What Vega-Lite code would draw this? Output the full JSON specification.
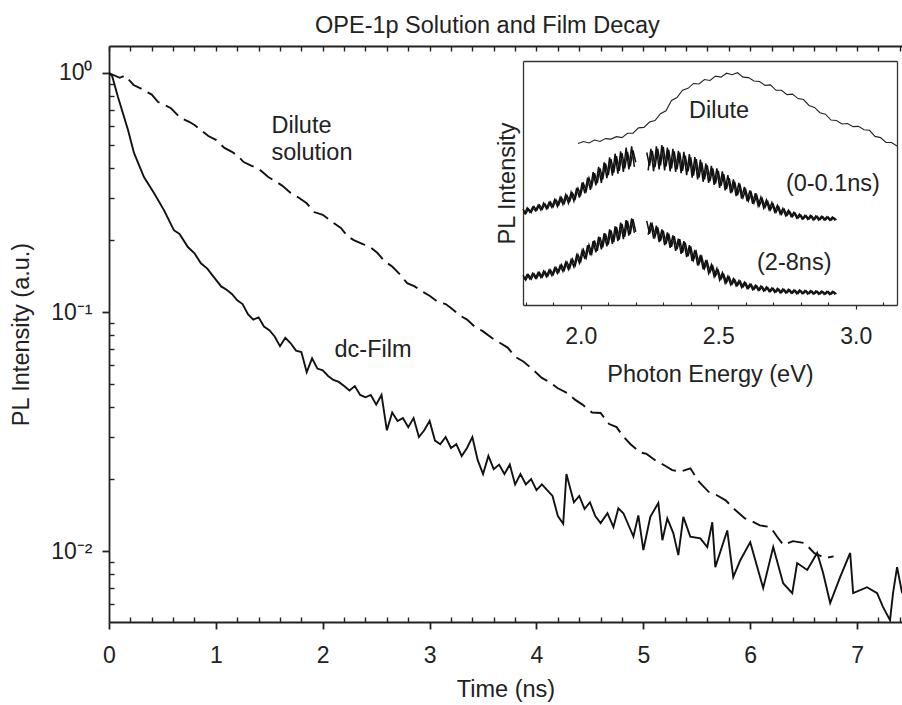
{
  "$schema": "https://vega.github.io/schema/vega-lite/v6.json",
  "width": 793,
  "height": 576,
  "autosize": {"type": "none"},
  "padding": {"left": 109, "top": 46, "right": 0, "bottom": 83},
  "background": "white",
  "title": {"text": "OPE-1p Solution and Film Decay", "anchor": "start", "frame": "group", "dx": 206, "offset": -16, "baseline": "bottom", "fontSize": 23.5, "fontWeight": "normal", "font": "Liberation Sans", "color": "#222"},
  "config": {
    "view": {"stroke": null},
    "font": "Liberation Sans",
    "axis": {"grid": false, "domainColor": "#222", "tickColor": "#222", "labelColor": "#222", "titleColor": "#222", "labelFont": "Liberation Sans", "titleFont": "Liberation Sans", "titleFontWeight": "normal", "labelFontSize": 23, "titleFontSize": 23.5, "labelFlush": false, "labelOverlap": false, "labelBound": false, "domainWidth": 1.8, "tickWidth": 1.8}
  },
  "datasets": {
    "film": [
      {"t":0,"v":1.0},{"t":0.03,"v":0.97},{"t":0.084,"v":0.794},{"t":0.178,"v":0.578},{"t":0.234,"v":0.463},{"t":0.327,"v":0.367},{"t":0.421,"v":0.315},{"t":0.514,"v":0.267},{"t":0.607,"v":0.22},{"t":0.66,"v":0.212},{"t":0.738,"v":0.187},{"t":0.8,"v":0.176},{"t":0.86,"v":0.16},{"t":0.92,"v":0.152},{"t":0.981,"v":0.14},
      {"t":1.05,"v":0.128},{"t":1.1,"v":0.124},{"t":1.15,"v":0.119},{"t":1.2,"v":0.112},{"t":1.25,"v":0.108},{"t":1.3,"v":0.098},{"t":1.35,"v":0.093},{"t":1.4,"v":0.095},{"t":1.45,"v":0.087},{"t":1.5,"v":0.084},{"t":1.55,"v":0.079},{"t":1.6,"v":0.072},{"t":1.65,"v":0.078},{"t":1.7,"v":0.074},{"t":1.75,"v":0.069},{"t":1.8,"v":0.068},{"t":1.85,"v":0.056},{"t":1.9,"v":0.064},{"t":1.95,"v":0.058},{"t":2.0,"v":0.057},{"t":2.05,"v":0.054},{"t":2.1,"v":0.052},{"t":2.15,"v":0.051},{"t":2.2,"v":0.049},{"t":2.25,"v":0.047},{"t":2.3,"v":0.049},{"t":2.35,"v":0.045},{"t":2.4,"v":0.044},{"t":2.45,"v":0.045},{"t":2.5,"v":0.041},{"t":2.55,"v":0.045},{"t":2.6,"v":0.032},{"t":2.65,"v":0.038},{"t":2.7,"v":0.035},{"t":2.75,"v":0.036},{"t":2.8,"v":0.033},{"t":2.85,"v":0.036},{"t":2.9,"v":0.03},{"t":2.95,"v":0.032},{"t":3.0,"v":0.035},{"t":3.05,"v":0.029},{"t":3.1,"v":0.028},{"t":3.15,"v":0.03},{"t":3.2,"v":0.027},{"t":3.25,"v":0.028},{"t":3.3,"v":0.025},{"t":3.35,"v":0.027},{"t":3.4,"v":0.03},{"t":3.45,"v":0.024},{"t":3.5,"v":0.021},{"t":3.55,"v":0.025},{"t":3.6,"v":0.022},{"t":3.65,"v":0.023},{"t":3.7,"v":0.021},{"t":3.75,"v":0.023},{"t":3.8,"v":0.019},{"t":3.85,"v":0.021},{"t":3.9,"v":0.019},{"t":3.95,"v":0.02},{"t":4.0,"v":0.018},{"t":4.05,"v":0.019},{"t":4.1,"v":0.018},{"t":4.15,"v":0.017},{"t":4.2,"v":0.014},{"t":4.25,"v":0.013},{"t":4.28,"v":0.021},{"t":4.35,"v":0.016},{"t":4.4,"v":0.017},{"t":4.45,"v":0.015},{"t":4.5,"v":0.016},{"t":4.55,"v":0.014},{"t":4.6,"v":0.0131},
      {"t":4.664,"v":0.0144},{"t":4.72,"v":0.0126},{"t":4.766,"v":0.0151},{"t":4.813,"v":0.0144},{"t":4.907,"v":0.0115},{"t":4.953,"v":0.0141},{"t":5.0,"v":0.0101},{"t":5.065,"v":0.0139},{"t":5.14,"v":0.0159},{"t":5.178,"v":0.0111},{"t":5.224,"v":0.0137},{"t":5.28,"v":0.0119},{"t":5.327,"v":0.00962},{"t":5.374,"v":0.0139},{"t":5.439,"v":0.0115},{"t":5.533,"v":0.0113},{"t":5.598,"v":0.0104},{"t":5.645,"v":0.0132},{"t":5.673,"v":0.00857},{"t":5.785,"v":0.0122},{"t":5.841,"v":0.00778},{"t":5.907,"v":0.00916},{"t":6.0,"v":0.0109},{"t":6.121,"v":0.007},{"t":6.215,"v":0.0104},{"t":6.308,"v":0.00734},{"t":6.393,"v":0.00667},{"t":6.439,"v":0.00891},{"t":6.533,"v":0.00834},{"t":6.626,"v":0.00982},{"t":6.682,"v":0.00809},{"t":6.748,"v":0.00606},{"t":6.841,"v":0.00778},{"t":6.935,"v":0.00982},{"t":6.963,"v":0.00667},{"t":7.093,"v":0.00706},{"t":7.187,"v":0.00667},{"t":7.243,"v":0.00583},{"t":7.308,"v":0.00514},{"t":7.336,"v":0.00667},{"t":7.374,"v":0.00857},{"t":7.421,"v":0.00667}
    ],
    "dil": [
      {"t":0,"v":1.0},{"t":0.1,"v":0.955},{"t":0.15,"v":0.975},{"t":0.23,"v":0.891},{"t":0.3,"v":0.86},{"t":0.35,"v":0.835},{"t":0.4,"v":0.812},{"t":0.46,"v":0.756},{"t":0.52,"v":0.735},{"t":0.58,"v":0.712},{"t":0.67,"v":0.648},{"t":0.75,"v":0.625},{"t":0.8,"v":0.606},{"t":0.86,"v":0.577},{"t":0.93,"v":0.545},{"t":1.0,"v":0.525},{"t":1.08,"v":0.486},{"t":1.15,"v":0.468},{"t":1.2,"v":0.452},{"t":1.26,"v":0.424},{"t":1.33,"v":0.41},{"t":1.4,"v":0.398},{"t":1.49,"v":0.367},{"t":1.55,"v":0.354},{"t":1.62,"v":0.338},{"t":1.7,"v":0.315},{"t":1.78,"v":0.3},{"t":1.85,"v":0.285},{"t":1.92,"v":0.262},{"t":2.0,"v":0.255},{"t":2.1,"v":0.236},{"t":2.17,"v":0.225},{"t":2.23,"v":0.208},{"t":2.29,"v":0.2},{"t":2.37,"v":0.193},{"t":2.45,"v":0.186},{"t":2.51,"v":0.177},{"t":2.58,"v":0.163},{"t":2.65,"v":0.155},{"t":2.72,"v":0.144},{"t":2.79,"v":0.132},{"t":2.86,"v":0.128},{"t":2.93,"v":0.122},{"t":3.0,"v":0.117},{"t":3.08,"v":0.11},{"t":3.15,"v":0.108},{"t":3.2,"v":0.104},{"t":3.28,"v":0.097},{"t":3.35,"v":0.093},{"t":3.42,"v":0.087},{"t":3.5,"v":0.083},{"t":3.58,"v":0.078},{"t":3.66,"v":0.0742},{"t":3.73,"v":0.071},{"t":3.8,"v":0.065},{"t":3.88,"v":0.062},{"t":3.97,"v":0.0572},{"t":4.05,"v":0.053},{"t":4.12,"v":0.051},{"t":4.2,"v":0.048},{"t":4.29,"v":0.0458},{"t":4.36,"v":0.043},{"t":4.43,"v":0.041},{"t":4.52,"v":0.038},{"t":4.6,"v":0.0378},{"t":4.68,"v":0.034},{"t":4.75,"v":0.033},{"t":4.8,"v":0.0306},{"t":4.88,"v":0.028},{"t":4.97,"v":0.0259},{"t":5.03,"v":0.0255},{"t":5.11,"v":0.024},{"t":5.2,"v":0.0228},{"t":5.27,"v":0.0218},{"t":5.35,"v":0.0215},{"t":5.44,"v":0.0222},{"t":5.52,"v":0.0195},{"t":5.61,"v":0.0177},{"t":5.68,"v":0.0172},{"t":5.77,"v":0.0163},{"t":5.85,"v":0.015},{"t":5.95,"v":0.0137},{"t":6.02,"v":0.0133},{"t":6.09,"v":0.0128},{"t":6.19,"v":0.0126},{"t":6.25,"v":0.0115},{"t":6.31,"v":0.0106},{"t":6.4,"v":0.011},{"t":6.51,"v":0.0108},{"t":6.6,"v":0.0098},{"t":6.7,"v":0.00935},{"t":6.78,"v":0.0095}
    ],
    "lab": [
      {"t":1.52,"v":0.561,"txt":"Dilute"},{"t":1.52,"v":0.433,"txt":"solution"},{"t":2.11,"v":0.0648,"txt":"dc-Film"}
    ],
    "ins": [
      {"e":1.79,"v":0.393,"c":"b1"},{"e":1.8,"v":0.374,"c":"b1"},{"e":1.81,"v":0.394,"c":"b1"},{"e":1.82,"v":0.379,"c":"b1"},{"e":1.83,"v":0.404,"c":"b1"},{"e":1.84,"v":0.388,"c":"b1"},{"e":1.85,"v":0.41,"c":"b1"},{"e":1.86,"v":0.392,"c":"b1"},{"e":1.87,"v":0.414,"c":"b1"},{"e":1.88,"v":0.396,"c":"b1"},{"e":1.89,"v":0.422,"c":"b1"},{"e":1.9,"v":0.403,"c":"b1"},{"e":1.91,"v":0.431,"c":"b1"},{"e":1.92,"v":0.41,"c":"b1"},{"e":1.93,"v":0.44,"c":"b1"},{"e":1.94,"v":0.417,"c":"b1"},{"e":1.95,"v":0.449,"c":"b1"},{"e":1.96,"v":0.425,"c":"b1"},{"e":1.97,"v":0.458,"c":"b1"},{"e":1.98,"v":0.436,"c":"b1"},{"e":1.99,"v":0.478,"c":"b1"},{"e":2.0,"v":0.452,"c":"b1"},{"e":2.01,"v":0.497,"c":"b1"},{"e":2.02,"v":0.468,"c":"b1"},{"e":2.03,"v":0.52,"c":"b1"},{"e":2.04,"v":0.486,"c":"b1"},{"e":2.05,"v":0.54,"c":"b1"},{"e":2.06,"v":0.5,"c":"b1"},{"e":2.07,"v":0.56,"c":"b1"},{"e":2.08,"v":0.515,"c":"b1"},{"e":2.09,"v":0.58,"c":"b1"},{"e":2.1,"v":0.532,"c":"b1"},{"e":2.11,"v":0.598,"c":"b1"},{"e":2.12,"v":0.543,"c":"b1"},{"e":2.13,"v":0.61,"c":"b1"},{"e":2.14,"v":0.55,"c":"b1"},{"e":2.15,"v":0.622,"c":"b1"},{"e":2.16,"v":0.56,"c":"b1"},{"e":2.17,"v":0.628,"c":"b1"},{"e":2.18,"v":0.568,"c":"b1"},{"e":2.19,"v":0.634,"c":"b1"},{"e":2.2,"v":0.585,"c":"b1"},
      {"e":1.795,"v":0.372,"c":"b1x"},{"e":1.805,"v":0.398,"c":"b1x"},{"e":1.815,"v":0.38,"c":"b1x"},{"e":1.825,"v":0.401,"c":"b1x"},{"e":1.835,"v":0.386,"c":"b1x"},{"e":1.845,"v":0.409,"c":"b1x"},{"e":1.855,"v":0.389,"c":"b1x"},{"e":1.865,"v":0.418,"c":"b1x"},{"e":1.875,"v":0.395,"c":"b1x"},{"e":1.885,"v":0.421,"c":"b1x"},{"e":1.895,"v":0.4,"c":"b1x"},{"e":1.905,"v":0.432,"c":"b1x"},{"e":1.915,"v":0.404,"c":"b1x"},{"e":1.925,"v":0.441,"c":"b1x"},{"e":1.935,"v":0.412,"c":"b1x"},{"e":1.945,"v":0.452,"c":"b1x"},{"e":1.955,"v":0.418,"c":"b1x"},{"e":1.965,"v":0.462,"c":"b1x"},{"e":1.975,"v":0.426,"c":"b1x"},{"e":1.985,"v":0.48,"c":"b1x"},{"e":1.995,"v":0.44,"c":"b1x"},{"e":2.005,"v":0.502,"c":"b1x"},{"e":2.015,"v":0.458,"c":"b1x"},{"e":2.025,"v":0.522,"c":"b1x"},{"e":2.035,"v":0.472,"c":"b1x"},{"e":2.045,"v":0.545,"c":"b1x"},{"e":2.055,"v":0.49,"c":"b1x"},{"e":2.065,"v":0.566,"c":"b1x"},{"e":2.075,"v":0.5,"c":"b1x"},{"e":2.085,"v":0.585,"c":"b1x"},{"e":2.095,"v":0.52,"c":"b1x"},{"e":2.105,"v":0.605,"c":"b1x"},{"e":2.115,"v":0.53,"c":"b1x"},{"e":2.125,"v":0.62,"c":"b1x"},{"e":2.135,"v":0.538,"c":"b1x"},{"e":2.145,"v":0.63,"c":"b1x"},{"e":2.155,"v":0.545,"c":"b1x"},{"e":2.165,"v":0.645,"c":"b1x"},{"e":2.175,"v":0.556,"c":"b1x"},{"e":2.185,"v":0.65,"c":"b1x"},{"e":2.195,"v":0.566,"c":"b1x"},
      {"e":2.24,"v":0.625,"c":"b2"},{"e":2.25,"v":0.57,"c":"b2"},{"e":2.26,"v":0.632,"c":"b2"},{"e":2.27,"v":0.565,"c":"b2"},{"e":2.28,"v":0.64,"c":"b2"},{"e":2.29,"v":0.572,"c":"b2"},{"e":2.3,"v":0.648,"c":"b2"},{"e":2.31,"v":0.568,"c":"b2"},{"e":2.32,"v":0.636,"c":"b2"},{"e":2.33,"v":0.56,"c":"b2"},{"e":2.34,"v":0.63,"c":"b2"},{"e":2.35,"v":0.556,"c":"b2"},{"e":2.36,"v":0.625,"c":"b2"},{"e":2.37,"v":0.55,"c":"b2"},{"e":2.38,"v":0.612,"c":"b2"},{"e":2.39,"v":0.548,"c":"b2"},{"e":2.4,"v":0.605,"c":"b2"},{"e":2.41,"v":0.53,"c":"b2"},{"e":2.42,"v":0.598,"c":"b2"},{"e":2.43,"v":0.522,"c":"b2"},{"e":2.44,"v":0.585,"c":"b2"},{"e":2.45,"v":0.515,"c":"b2"},{"e":2.46,"v":0.572,"c":"b2"},{"e":2.47,"v":0.508,"c":"b2"},{"e":2.48,"v":0.56,"c":"b2"},{"e":2.49,"v":0.498,"c":"b2"},{"e":2.5,"v":0.55,"c":"b2"},{"e":2.51,"v":0.488,"c":"b2"},{"e":2.52,"v":0.536,"c":"b2"},{"e":2.53,"v":0.475,"c":"b2"},{"e":2.54,"v":0.52,"c":"b2"},{"e":2.55,"v":0.462,"c":"b2"},{"e":2.56,"v":0.505,"c":"b2"},{"e":2.57,"v":0.45,"c":"b2"},{"e":2.58,"v":0.488,"c":"b2"},{"e":2.59,"v":0.44,"c":"b2"},{"e":2.6,"v":0.472,"c":"b2"},{"e":2.61,"v":0.428,"c":"b2"},{"e":2.62,"v":0.46,"c":"b2"},{"e":2.63,"v":0.418,"c":"b2"},{"e":2.64,"v":0.45,"c":"b2"},{"e":2.65,"v":0.408,"c":"b2"},{"e":2.66,"v":0.436,"c":"b2"},{"e":2.67,"v":0.4,"c":"b2"},{"e":2.68,"v":0.424,"c":"b2"},{"e":2.69,"v":0.39,"c":"b2"},{"e":2.7,"v":0.412,"c":"b2"},{"e":2.71,"v":0.38,"c":"b2"},{"e":2.72,"v":0.402,"c":"b2"},{"e":2.73,"v":0.372,"c":"b2"},{"e":2.74,"v":0.392,"c":"b2"},{"e":2.75,"v":0.367,"c":"b2"},{"e":2.76,"v":0.383,"c":"b2"},{"e":2.77,"v":0.362,"c":"b2"},{"e":2.78,"v":0.376,"c":"b2"},{"e":2.79,"v":0.356,"c":"b2"},{"e":2.8,"v":0.369,"c":"b2"},{"e":2.81,"v":0.353,"c":"b2"},{"e":2.82,"v":0.366,"c":"b2"},{"e":2.83,"v":0.352,"c":"b2"},{"e":2.84,"v":0.365,"c":"b2"},{"e":2.85,"v":0.35,"c":"b2"},{"e":2.86,"v":0.363,"c":"b2"},{"e":2.87,"v":0.35,"c":"b2"},{"e":2.88,"v":0.362,"c":"b2"},{"e":2.89,"v":0.349,"c":"b2"},{"e":2.9,"v":0.36,"c":"b2"},{"e":2.91,"v":0.348,"c":"b2"},{"e":2.92,"v":0.358,"c":"b2"},{"e":2.93,"v":0.349,"c":"b2"},
      {"e":2.245,"v":0.552,"c":"b2x"},{"e":2.255,"v":0.64,"c":"b2x"},{"e":2.265,"v":0.548,"c":"b2x"},{"e":2.275,"v":0.65,"c":"b2x"},{"e":2.285,"v":0.556,"c":"b2x"},{"e":2.295,"v":0.655,"c":"b2x"},{"e":2.305,"v":0.552,"c":"b2x"},{"e":2.315,"v":0.645,"c":"b2x"},{"e":2.325,"v":0.548,"c":"b2x"},{"e":2.335,"v":0.64,"c":"b2x"},{"e":2.345,"v":0.545,"c":"b2x"},{"e":2.355,"v":0.632,"c":"b2x"},{"e":2.365,"v":0.54,"c":"b2x"},{"e":2.375,"v":0.628,"c":"b2x"},{"e":2.385,"v":0.532,"c":"b2x"},{"e":2.395,"v":0.618,"c":"b2x"},{"e":2.405,"v":0.522,"c":"b2x"},{"e":2.415,"v":0.606,"c":"b2x"},{"e":2.425,"v":0.515,"c":"b2x"},{"e":2.435,"v":0.596,"c":"b2x"},{"e":2.445,"v":0.505,"c":"b2x"},{"e":2.455,"v":0.58,"c":"b2x"},{"e":2.465,"v":0.5,"c":"b2x"},{"e":2.475,"v":0.57,"c":"b2x"},{"e":2.485,"v":0.492,"c":"b2x"},{"e":2.495,"v":0.56,"c":"b2x"},{"e":2.505,"v":0.48,"c":"b2x"},{"e":2.515,"v":0.548,"c":"b2x"},{"e":2.525,"v":0.47,"c":"b2x"},{"e":2.535,"v":0.532,"c":"b2x"},{"e":2.545,"v":0.458,"c":"b2x"},{"e":2.555,"v":0.515,"c":"b2x"},{"e":2.565,"v":0.446,"c":"b2x"},{"e":2.575,"v":0.5,"c":"b2x"},{"e":2.585,"v":0.436,"c":"b2x"},{"e":2.595,"v":0.484,"c":"b2x"},{"e":2.605,"v":0.425,"c":"b2x"},{"e":2.615,"v":0.47,"c":"b2x"},{"e":2.625,"v":0.415,"c":"b2x"},{"e":2.635,"v":0.458,"c":"b2x"},{"e":2.645,"v":0.406,"c":"b2x"},{"e":2.655,"v":0.442,"c":"b2x"},{"e":2.665,"v":0.398,"c":"b2x"},{"e":2.675,"v":0.43,"c":"b2x"},{"e":2.685,"v":0.39,"c":"b2x"},{"e":2.695,"v":0.42,"c":"b2x"},{"e":2.705,"v":0.382,"c":"b2x"},{"e":2.715,"v":0.408,"c":"b2x"},{"e":2.725,"v":0.373,"c":"b2x"},{"e":2.735,"v":0.396,"c":"b2x"},{"e":2.745,"v":0.366,"c":"b2x"},{"e":2.755,"v":0.388,"c":"b2x"},{"e":2.765,"v":0.362,"c":"b2x"},{"e":2.775,"v":0.38,"c":"b2x"},{"e":2.785,"v":0.356,"c":"b2x"},{"e":2.795,"v":0.372,"c":"b2x"},{"e":2.805,"v":0.352,"c":"b2x"},{"e":2.815,"v":0.368,"c":"b2x"},{"e":2.825,"v":0.351,"c":"b2x"},{"e":2.835,"v":0.367,"c":"b2x"},{"e":2.845,"v":0.349,"c":"b2x"},{"e":2.855,"v":0.365,"c":"b2x"},{"e":2.865,"v":0.348,"c":"b2x"},{"e":2.875,"v":0.364,"c":"b2x"},{"e":2.885,"v":0.348,"c":"b2x"},{"e":2.895,"v":0.362,"c":"b2x"},{"e":2.905,"v":0.347,"c":"b2x"},{"e":2.915,"v":0.361,"c":"b2x"},{"e":2.925,"v":0.346,"c":"b2x"},
      {"e":1.79,"v":0.122,"c":"c1"},{"e":1.8,"v":0.102,"c":"c1"},{"e":1.81,"v":0.124,"c":"c1"},{"e":1.82,"v":0.106,"c":"c1"},{"e":1.83,"v":0.128,"c":"c1"},{"e":1.84,"v":0.11,"c":"c1"},{"e":1.85,"v":0.133,"c":"c1"},{"e":1.86,"v":0.114,"c":"c1"},{"e":1.87,"v":0.137,"c":"c1"},{"e":1.88,"v":0.118,"c":"c1"},{"e":1.89,"v":0.143,"c":"c1"},{"e":1.9,"v":0.125,"c":"c1"},{"e":1.91,"v":0.154,"c":"c1"},{"e":1.92,"v":0.134,"c":"c1"},{"e":1.93,"v":0.165,"c":"c1"},{"e":1.94,"v":0.142,"c":"c1"},{"e":1.95,"v":0.176,"c":"c1"},{"e":1.96,"v":0.15,"c":"c1"},{"e":1.97,"v":0.188,"c":"c1"},{"e":1.98,"v":0.162,"c":"c1"},{"e":1.99,"v":0.206,"c":"c1"},{"e":2.0,"v":0.178,"c":"c1"},{"e":2.01,"v":0.226,"c":"c1"},{"e":2.02,"v":0.194,"c":"c1"},{"e":2.03,"v":0.246,"c":"c1"},{"e":2.04,"v":0.21,"c":"c1"},{"e":2.05,"v":0.265,"c":"c1"},{"e":2.06,"v":0.222,"c":"c1"},{"e":2.07,"v":0.278,"c":"c1"},{"e":2.08,"v":0.236,"c":"c1"},{"e":2.09,"v":0.292,"c":"c1"},{"e":2.1,"v":0.248,"c":"c1"},{"e":2.11,"v":0.306,"c":"c1"},{"e":2.12,"v":0.258,"c":"c1"},{"e":2.13,"v":0.32,"c":"c1"},{"e":2.14,"v":0.268,"c":"c1"},{"e":2.15,"v":0.332,"c":"c1"},{"e":2.16,"v":0.28,"c":"c1"},{"e":2.17,"v":0.345,"c":"c1"},{"e":2.18,"v":0.29,"c":"c1"},{"e":2.19,"v":0.352,"c":"c1"},{"e":2.2,"v":0.3,"c":"c1"},
      {"e":1.795,"v":0.104,"c":"c1x"},{"e":1.805,"v":0.125,"c":"c1x"},{"e":1.815,"v":0.107,"c":"c1x"},{"e":1.825,"v":0.13,"c":"c1x"},{"e":1.835,"v":0.11,"c":"c1x"},{"e":1.845,"v":0.134,"c":"c1x"},{"e":1.855,"v":0.113,"c":"c1x"},{"e":1.865,"v":0.139,"c":"c1x"},{"e":1.875,"v":0.116,"c":"c1x"},{"e":1.885,"v":0.144,"c":"c1x"},{"e":1.895,"v":0.121,"c":"c1x"},{"e":1.905,"v":0.152,"c":"c1x"},{"e":1.915,"v":0.13,"c":"c1x"},{"e":1.925,"v":0.162,"c":"c1x"},{"e":1.935,"v":0.138,"c":"c1x"},{"e":1.945,"v":0.175,"c":"c1x"},{"e":1.955,"v":0.146,"c":"c1x"},{"e":1.965,"v":0.186,"c":"c1x"},{"e":1.975,"v":0.156,"c":"c1x"},{"e":1.985,"v":0.204,"c":"c1x"},{"e":1.995,"v":0.172,"c":"c1x"},{"e":2.005,"v":0.224,"c":"c1x"},{"e":2.015,"v":0.188,"c":"c1x"},{"e":2.025,"v":0.245,"c":"c1x"},{"e":2.035,"v":0.204,"c":"c1x"},{"e":2.045,"v":0.262,"c":"c1x"},{"e":2.055,"v":0.216,"c":"c1x"},{"e":2.065,"v":0.28,"c":"c1x"},{"e":2.075,"v":0.228,"c":"c1x"},{"e":2.085,"v":0.294,"c":"c1x"},{"e":2.095,"v":0.24,"c":"c1x"},{"e":2.105,"v":0.31,"c":"c1x"},{"e":2.115,"v":0.25,"c":"c1x"},{"e":2.125,"v":0.322,"c":"c1x"},{"e":2.135,"v":0.262,"c":"c1x"},{"e":2.145,"v":0.338,"c":"c1x"},{"e":2.155,"v":0.27,"c":"c1x"},{"e":2.165,"v":0.348,"c":"c1x"},{"e":2.175,"v":0.284,"c":"c1x"},{"e":2.185,"v":0.355,"c":"c1x"},{"e":2.195,"v":0.296,"c":"c1x"},
      {"e":2.24,"v":0.345,"c":"c2"},{"e":2.25,"v":0.292,"c":"c2"},{"e":2.26,"v":0.33,"c":"c2"},{"e":2.27,"v":0.28,"c":"c2"},{"e":2.28,"v":0.318,"c":"c2"},{"e":2.29,"v":0.262,"c":"c2"},{"e":2.3,"v":0.305,"c":"c2"},{"e":2.31,"v":0.25,"c":"c2"},{"e":2.32,"v":0.292,"c":"c2"},{"e":2.33,"v":0.238,"c":"c2"},{"e":2.34,"v":0.282,"c":"c2"},{"e":2.35,"v":0.228,"c":"c2"},{"e":2.36,"v":0.27,"c":"c2"},{"e":2.37,"v":0.214,"c":"c2"},{"e":2.38,"v":0.256,"c":"c2"},{"e":2.39,"v":0.2,"c":"c2"},{"e":2.4,"v":0.24,"c":"c2"},{"e":2.41,"v":0.184,"c":"c2"},{"e":2.42,"v":0.218,"c":"c2"},{"e":2.43,"v":0.168,"c":"c2"},{"e":2.44,"v":0.198,"c":"c2"},{"e":2.45,"v":0.15,"c":"c2"},{"e":2.46,"v":0.178,"c":"c2"},{"e":2.47,"v":0.134,"c":"c2"},{"e":2.48,"v":0.16,"c":"c2"},{"e":2.49,"v":0.12,"c":"c2"},{"e":2.5,"v":0.142,"c":"c2"},{"e":2.51,"v":0.106,"c":"c2"},{"e":2.52,"v":0.126,"c":"c2"},{"e":2.53,"v":0.092,"c":"c2"},{"e":2.54,"v":0.114,"c":"c2"},{"e":2.55,"v":0.085,"c":"c2"},{"e":2.56,"v":0.104,"c":"c2"},{"e":2.57,"v":0.08,"c":"c2"},{"e":2.58,"v":0.097,"c":"c2"},{"e":2.59,"v":0.074,"c":"c2"},{"e":2.6,"v":0.09,"c":"c2"},{"e":2.61,"v":0.068,"c":"c2"},{"e":2.62,"v":0.084,"c":"c2"},{"e":2.63,"v":0.064,"c":"c2"},{"e":2.64,"v":0.079,"c":"c2"},{"e":2.65,"v":0.061,"c":"c2"},{"e":2.66,"v":0.075,"c":"c2"},{"e":2.67,"v":0.058,"c":"c2"},{"e":2.68,"v":0.072,"c":"c2"},{"e":2.69,"v":0.055,"c":"c2"},{"e":2.7,"v":0.068,"c":"c2"},{"e":2.71,"v":0.053,"c":"c2"},{"e":2.72,"v":0.065,"c":"c2"},{"e":2.73,"v":0.051,"c":"c2"},{"e":2.74,"v":0.063,"c":"c2"},{"e":2.75,"v":0.05,"c":"c2"},{"e":2.76,"v":0.062,"c":"c2"},{"e":2.77,"v":0.049,"c":"c2"},{"e":2.78,"v":0.06,"c":"c2"},{"e":2.79,"v":0.047,"c":"c2"},{"e":2.8,"v":0.059,"c":"c2"},{"e":2.81,"v":0.047,"c":"c2"},{"e":2.82,"v":0.058,"c":"c2"},{"e":2.83,"v":0.046,"c":"c2"},{"e":2.84,"v":0.057,"c":"c2"},{"e":2.85,"v":0.046,"c":"c2"},{"e":2.86,"v":0.056,"c":"c2"},{"e":2.87,"v":0.045,"c":"c2"},{"e":2.88,"v":0.055,"c":"c2"},{"e":2.89,"v":0.045,"c":"c2"},{"e":2.9,"v":0.055,"c":"c2"},{"e":2.91,"v":0.044,"c":"c2"},{"e":2.92,"v":0.054,"c":"c2"},{"e":2.93,"v":0.045,"c":"c2"},
      {"e":2.245,"v":0.288,"c":"c2x"},{"e":2.255,"v":0.338,"c":"c2x"},{"e":2.265,"v":0.272,"c":"c2x"},{"e":2.275,"v":0.325,"c":"c2x"},{"e":2.285,"v":0.258,"c":"c2x"},{"e":2.295,"v":0.31,"c":"c2x"},{"e":2.305,"v":0.245,"c":"c2x"},{"e":2.315,"v":0.298,"c":"c2x"},{"e":2.325,"v":0.234,"c":"c2x"},{"e":2.335,"v":0.285,"c":"c2x"},{"e":2.345,"v":0.222,"c":"c2x"},{"e":2.355,"v":0.272,"c":"c2x"},{"e":2.365,"v":0.21,"c":"c2x"},{"e":2.375,"v":0.262,"c":"c2x"},{"e":2.385,"v":0.196,"c":"c2x"},{"e":2.395,"v":0.245,"c":"c2x"},{"e":2.405,"v":0.18,"c":"c2x"},{"e":2.415,"v":0.226,"c":"c2x"},{"e":2.425,"v":0.162,"c":"c2x"},{"e":2.435,"v":0.205,"c":"c2x"},{"e":2.445,"v":0.146,"c":"c2x"},{"e":2.455,"v":0.185,"c":"c2x"},{"e":2.465,"v":0.13,"c":"c2x"},{"e":2.475,"v":0.165,"c":"c2x"},{"e":2.485,"v":0.116,"c":"c2x"},{"e":2.495,"v":0.15,"c":"c2x"},{"e":2.505,"v":0.102,"c":"c2x"},{"e":2.515,"v":0.132,"c":"c2x"},{"e":2.525,"v":0.09,"c":"c2x"},{"e":2.535,"v":0.118,"c":"c2x"},{"e":2.545,"v":0.083,"c":"c2x"},{"e":2.555,"v":0.108,"c":"c2x"},{"e":2.565,"v":0.078,"c":"c2x"},{"e":2.575,"v":0.1,"c":"c2x"},{"e":2.585,"v":0.072,"c":"c2x"},{"e":2.595,"v":0.093,"c":"c2x"},{"e":2.605,"v":0.067,"c":"c2x"},{"e":2.615,"v":0.086,"c":"c2x"},{"e":2.625,"v":0.063,"c":"c2x"},{"e":2.635,"v":0.081,"c":"c2x"},{"e":2.645,"v":0.06,"c":"c2x"},{"e":2.655,"v":0.078,"c":"c2x"},{"e":2.665,"v":0.057,"c":"c2x"},{"e":2.675,"v":0.074,"c":"c2x"},{"e":2.685,"v":0.055,"c":"c2x"},{"e":2.695,"v":0.07,"c":"c2x"},{"e":2.705,"v":0.052,"c":"c2x"},{"e":2.715,"v":0.068,"c":"c2x"},{"e":2.725,"v":0.05,"c":"c2x"},{"e":2.735,"v":0.066,"c":"c2x"},{"e":2.745,"v":0.049,"c":"c2x"},{"e":2.755,"v":0.064,"c":"c2x"},{"e":2.765,"v":0.048,"c":"c2x"},{"e":2.775,"v":0.062,"c":"c2x"},{"e":2.785,"v":0.046,"c":"c2x"},{"e":2.795,"v":0.061,"c":"c2x"},{"e":2.805,"v":0.046,"c":"c2x"},{"e":2.815,"v":0.06,"c":"c2x"},{"e":2.825,"v":0.045,"c":"c2x"},{"e":2.835,"v":0.059,"c":"c2x"},{"e":2.845,"v":0.045,"c":"c2x"},{"e":2.855,"v":0.058,"c":"c2x"},{"e":2.865,"v":0.044,"c":"c2x"},{"e":2.875,"v":0.057,"c":"c2x"},{"e":2.885,"v":0.044,"c":"c2x"},{"e":2.895,"v":0.056,"c":"c2x"},{"e":2.905,"v":0.043,"c":"c2x"},{"e":2.915,"v":0.056,"c":"c2x"},{"e":2.925,"v":0.043,"c":"c2x"}
    ],
    "idil": [
      {"e":1.99,"v":0.662},{"e":2.01,"v":0.67},{"e":2.03,"v":0.664},{"e":2.05,"v":0.676},{"e":2.07,"v":0.67},{"e":2.09,"v":0.682},{"e":2.11,"v":0.68},{"e":2.13,"v":0.69},{"e":2.15,"v":0.686},{"e":2.17,"v":0.704},{"e":2.19,"v":0.704},{"e":2.21,"v":0.726},{"e":2.23,"v":0.728},{"e":2.25,"v":0.75},{"e":2.27,"v":0.756},{"e":2.29,"v":0.784},{"e":2.31,"v":0.796},{"e":2.33,"v":0.838},{"e":2.35,"v":0.85},{"e":2.37,"v":0.88},{"e":2.39,"v":0.888},{"e":2.41,"v":0.908},{"e":2.43,"v":0.906},{"e":2.45,"v":0.924},{"e":2.47,"v":0.92},{"e":2.49,"v":0.938},{"e":2.51,"v":0.934},{"e":2.53,"v":0.95},{"e":2.55,"v":0.944},{"e":2.57,"v":0.952},{"e":2.59,"v":0.934},{"e":2.61,"v":0.932},{"e":2.63,"v":0.918},{"e":2.65,"v":0.916},{"e":2.67,"v":0.9},{"e":2.69,"v":0.902},{"e":2.71,"v":0.88},{"e":2.73,"v":0.88},{"e":2.75,"v":0.862},{"e":2.77,"v":0.864},{"e":2.79,"v":0.846},{"e":2.81,"v":0.842},{"e":2.83,"v":0.818},{"e":2.85,"v":0.81},{"e":2.87,"v":0.788},{"e":2.89,"v":0.782},{"e":2.91,"v":0.758},{"e":2.93,"v":0.756},{"e":2.95,"v":0.742},{"e":2.97,"v":0.744},{"e":2.99,"v":0.731},{"e":3.01,"v":0.732},{"e":3.03,"v":0.718},{"e":3.05,"v":0.716},{"e":3.07,"v":0.691},{"e":3.09,"v":0.686},{"e":3.11,"v":0.666},{"e":3.13,"v":0.666},{"e":3.15,"v":0.652}
    ],
    "ilab": [
      {"e":2.394,"v":0.766,"txt":"Dilute"},{"e":2.746,"v":0.468,"txt":"(0-0.1ns)"},{"e":2.641,"v":0.143,"txt":"(2-8ns)"}
    ]
  },
  "layer": [
    {
      "resolve": {"axis": {"x": "independent", "y": "independent"}},
      "layer": [
        {
          "data": {"name": "film"},
          "mark": {"type": "line", "color": "#111", "strokeWidth": 1.9, "clip": true},
          "encoding": {
            "x": {"field": "t", "type": "quantitative", "scale": {"domain": [0, 7.42], "nice": false, "zero": false},
              "axis": {"orient": "bottom", "values": [0,1,2,3,4,5,6,7], "format": "d", "tickSize": 7, "labelPadding": 15, "title": "Time (ns)", "titlePadding": 10}},
            "y": {"field": "v", "type": "quantitative", "scale": {"type": "log", "domain": [0.00505, 1.297], "nice": false},
              "axis": {"orient": "left", "values": [1, 0.1, 0.01], "tickSize": 7, "labelPadding": 10, "labelExpr": "datum.value > 0.5 ? '10⁰' : (datum.value > 0.05 ? '10⁻¹' : '10⁻²')", "title": "PL Intensity (a.u.)", "titlePadding": 17}}
          }
        },
        {
          "data": {"name": "dil"},
          "mark": {"type": "line", "color": "#111", "strokeWidth": 1.9, "strokeDash": [16, 7], "clip": true},
          "encoding": {
            "x": {"field": "t", "type": "quantitative", "scale": {"domain": [0, 7.42], "nice": false, "zero": false},
              "axis": {"orient": "bottom", "values": [0.2,0.4,0.6,0.8,1.2,1.4,1.6,1.8,2.2,2.4,2.6,2.8,3.2,3.4,3.6,3.8,4.2,4.4,4.6,4.8,5.2,5.4,5.6,5.8,6.2,6.4,6.6,6.8,7.2,7.4], "tickSize": -5, "tickWidth": 1.4, "labels": false, "domain": false, "title": null}},
            "y": {"field": "v", "type": "quantitative", "scale": {"type": "log", "domain": [0.00505, 1.297], "nice": false},
              "axis": {"orient": "left", "values": [0.9,0.8,0.7,0.6,0.5,0.4,0.3,0.2,0.09,0.08,0.07,0.06,0.05,0.04,0.03,0.02,0.009,0.008,0.007,0.006], "tickSize": -5, "tickWidth": 1.4, "labels": false, "domain": false, "title": null}}
          }
        },
        {
          "data": {"name": "lab"},
          "mark": {"type": "text", "align": "left", "baseline": "alphabetic", "fontSize": 23.5, "font": "Liberation Sans", "color": "#222"},
          "encoding": {
            "x": {"field": "t", "type": "quantitative", "scale": {"domain": [0, 7.42], "nice": false, "zero": false},
              "axis": {"orient": "top", "values": [0,0.2,0.4,0.6,0.8,1,1.2,1.4,1.6,1.8,2,2.2,2.4,2.6,2.8,3,3.2,3.4,3.6,3.8,4,4.2,4.4,4.6,4.8,5,5.2,5.4,5.6,5.8,6,6.2,6.4,6.6,6.8,7,7.2,7.4], "tickSize": -5, "tickWidth": 1.4, "labels": false, "title": null}},
            "y": {"field": "v", "type": "quantitative", "scale": {"type": "log", "domain": [0.00505, 1.297], "nice": false}, "axis": null},
            "text": {"field": "txt"}
          }
        }
      ]
    },
    {
      "resolve": {"axis": {"x": "independent", "y": "independent"}},
      "layer": [
        {
          "data": {"name": "ins"},
          "mark": {"type": "line", "color": "#111", "strokeWidth": 1.5},
          "encoding": {
            "x": {"field": "e", "type": "quantitative", "scale": {"domain": [1.79, 3.15], "range": [414, 788], "nice": false, "zero": false},
              "axis": {"orient": "bottom", "offset": -317, "values": [2.0, 2.5, 3.0], "format": ".1f", "tickSize": 4, "tickWidth": 1.2, "domainWidth": 1.3, "domainColor": "#333", "labelPadding": 16, "title": "Photon Energy (eV)", "titlePadding": 14}},
            "y": {"field": "v", "type": "quantitative", "scale": {"domain": [0, 1], "range": [259, 15], "nice": false, "zero": false},
              "axis": {"orient": "left", "offset": -414, "ticks": false, "labels": false, "domainWidth": 1.3, "domainColor": "#333", "title": "PL Intensity", "titlePadding": 4}},
            "detail": {"field": "c", "type": "nominal"}
          }
        },
        {
          "data": {"name": "idil"},
          "mark": {"type": "line", "color": "#222", "strokeWidth": 1.1},
          "encoding": {
            "x": {"field": "e", "type": "quantitative", "scale": {"domain": [1.79, 3.15], "range": [414, 788], "nice": false, "zero": false},
              "axis": {"orient": "bottom", "offset": -317, "values": [1.8,1.9,2.1,2.2,2.3,2.4,2.6,2.7,2.8,2.9,3.1], "tickSize": -3, "tickWidth": 1.1, "labels": false, "domain": false, "title": null}},
            "y": {"field": "v", "type": "quantitative", "scale": {"domain": [0, 1], "range": [259, 15], "nice": false, "zero": false},
              "axis": {"orient": "right", "offset": -5, "ticks": false, "labels": false, "domainWidth": 1.3, "domainColor": "#333", "title": null}}
          }
        },
        {
          "data": {"name": "ilab"},
          "mark": {"type": "text", "align": "left", "baseline": "alphabetic", "fontSize": 23.5, "font": "Liberation Sans", "color": "#222"},
          "encoding": {
            "x": {"field": "e", "type": "quantitative", "scale": {"domain": [1.79, 3.15], "range": [414, 788], "nice": false, "zero": false},
              "axis": {"orient": "top", "offset": -15, "ticks": false, "labels": false, "domainWidth": 1.3, "domainColor": "#333", "title": null}},
            "y": {"field": "v", "type": "quantitative", "scale": {"domain": [0, 1], "range": [259, 15], "nice": false, "zero": false}, "axis": null},
            "text": {"field": "txt"}
          }
        }
      ]
    }
  ],
  "resolve": {"scale": {"x": "independent", "y": "independent"}, "axis": {"x": "independent", "y": "independent"}}
}
